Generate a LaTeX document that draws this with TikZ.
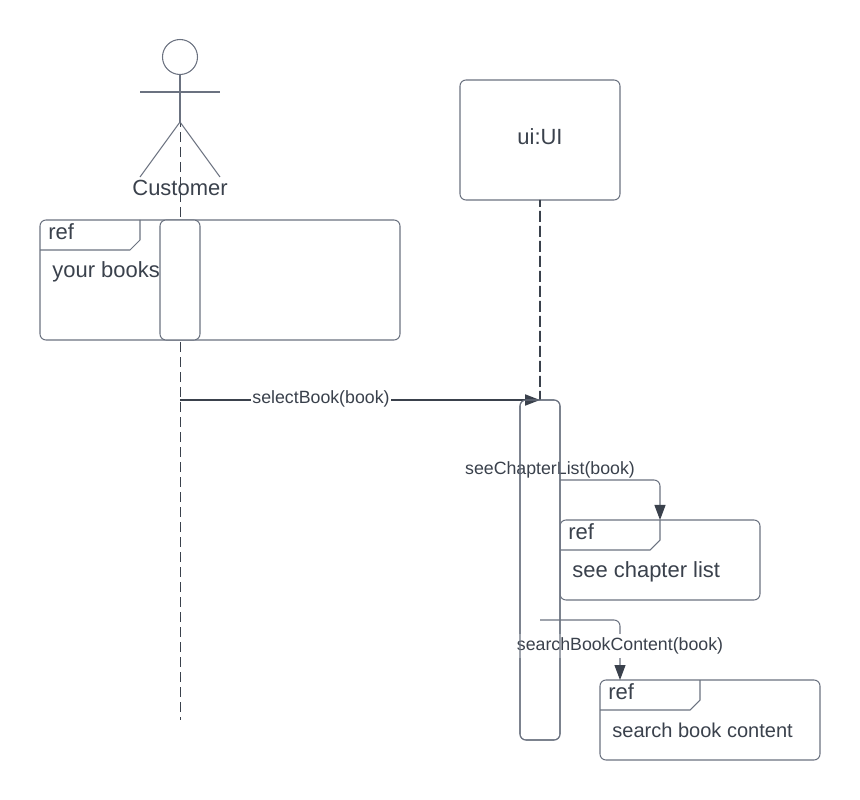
\documentclass[tikz,border=0pt]{standalone}
\usepackage{fontspec}
\setmainfont{Liberation Sans}
\usetikzlibrary{arrows.meta}
\definecolor{linecol}{HTML}{6B7280}
\definecolor{inkcol}{HTML}{3A414C}
\tikzset{
  box/.style={draw=linecol, fill=white, rounded corners=.12cm, line width=.6pt, inner sep=0pt, outer sep=0pt, anchor=north west},
  big/.style={text=inkcol, inner sep=0pt, font=\fontsize{12.5}{15}\selectfont},
  small/.style={text=inkcol, inner sep=0pt, font=\fontsize{10.1}{12}\selectfont},
  call/.style={draw=linecol, line width=.6pt, rounded corners=.12cm, -{Triangle[length=.3cm,width=.22cm,color=inkcol]}}
}
\begin{document}
\begin{tikzpicture}
\useasboundingbox (0,0) rectangle (17.2,-16);
\coordinate (neck) at (3.6,-2.44);
\coordinate (custend) at (3.6,-14.4);
\draw[inkcol, line width=.5pt, dash pattern=on .2cm off .1cm, dash phase=.1cm] (neck) -- (custend);
% actor
\node[draw=linecol, line width=.6pt, circle, minimum size=.7cm, inner sep=0pt] (head) at (3.6,-1.14) {};
\draw[linecol, line width=.6pt] (head.south) -- (neck);
\draw[linecol, line width=.6pt] (2.8,-1.84) -- (4.4,-1.84);
\draw[linecol, line width=.6pt] (2.8,-3.54) -- (neck) -- (4.4,-3.54);
\node[big] (customer) at (3.6,-3.76) {Customer};
\node[box, minimum width=3.2cm, minimum height=2.4cm] (ui) at (9.2,-1.6) {};
\node[big] (uilabel) at (10.8,-2.74) {ui:UI};
% ref frames
\node[box, minimum width=7.2cm, minimum height=2.4cm] (refa) at (.8,-4.4) {};
\node[box, minimum width=4cm, minimum height=1.6cm] (refb) at (11.2,-10.4) {};
\node[box, minimum width=4.4cm, minimum height=1.6cm] (refc) at (12,-13.6) {};
\foreach \b/\t/\s/\d in {refa/your books/12.5/1.04, refb/see chapter list/12.5/1.04, refc/search book content/11.4/1} {
  \draw[linecol, line width=.6pt] ([yshift=-.6cm]\b.north west) -- ++(1.8,0) -- ++(.2,.2) -- ++(0,.4);
  \node[big, anchor=west] (\b tag) at ([xshift=.16cm,yshift=-.24cm]\b.north west) {ref};
  \node[big, anchor=west, font=\fontsize{\s}{15}\selectfont] (\b text) at ([xshift=.24cm,yshift=-\d cm]\b.north west) {\t};
}
\node[box, minimum width=.8cm, minimum height=2.4cm] (bara) at (3.2,-4.4) {};
\node[box, minimum width=.8cm, minimum height=6.8cm] (barb) at (10.4,-8) {};
% messages
\draw[inkcol, line width=1.1pt, dash pattern=on .22cm off .08cm, dash phase=.08cm] (ui.south) -- (barb.north);
\coordinate (selfrom) at (3.6,-8);
\draw[call, draw=inkcol, line width=1.1pt] (selfrom) -- (barb.north);
\node[small, fill=white, inner xsep=1pt] (sellabel) at (6.42,-7.98) {selectBook(book)};
\coordinate (seefrom) at (11.2,-9.6);
\draw[call] (seefrom) -| (refb.north);
\node[small] (seelabel) at (11,-9.4) {seeChapterList(book)};
\coordinate (searchfrom) at (10.8,-12.4);
\coordinate (searchto) at (12.4,-13.6);
\draw[call] (searchfrom) -| (searchto);
\node[small, fill=white, inner ysep=2pt] (searchlabel) at (12.4,-12.92) {searchBookContent(book)};
\draw[linecol, line width=.6pt, rounded corners=.12cm] (barb.north west) rectangle (barb.south east);
\end{tikzpicture}
\end{document}
